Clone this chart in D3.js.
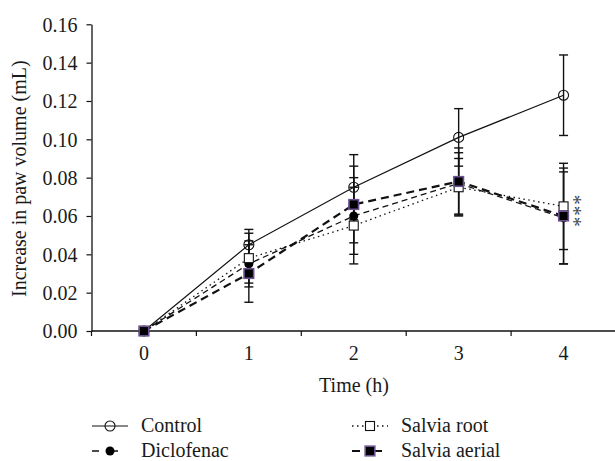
<!DOCTYPE html>
<html>
<head>
<meta charset="utf-8">
<script src="https://cdn.jsdelivr.net/npm/d3@7"></script>
<style>
  html, body { margin: 0; padding: 0; background: #fff; }
  svg, svg text { font-family: "Liberation Serif", "Times New Roman", serif !important; }
  svg text { fill: #1a1a1a; }
</style>
</head>
<body>
<svg id="chart" width="615" height="461" font-family="Liberation Serif, serif"></svg>
<script>
const times = ["0", "1", "2", "3", "4"];
const yTicks = [0, 0.02, 0.04, 0.06, 0.08, 0.10, 0.12, 0.14, 0.16];

const controlMean = [0, 0.045, 0.075, 0.101, 0.123];
const controlErr  = [0, 0.008, 0.017, 0.015, 0.021];
const diclofenacMean = [0, 0.035, 0.060, 0.077, 0.059];
const diclofenacErr  = [0, 0.012, 0.020, 0.016, 0.024];
const rootMean = [0, 0.038, 0.055, 0.075, 0.065];
const rootErr  = [0, 0.013, 0.020, 0.015, 0.0225];
const aerialMean = [0, 0.030, 0.066, 0.078, 0.060];
const aerialErr  = [0, 0.015, 0.020, 0.0175, 0.025];

const seriesNames = ["Control", "Diclofenac", "Salvia root", "Salvia aerial"];
// significance marks at 4 h (three stacked asterisks)
const starLabel = "***";
const starTop = 0.0685;

const svg = d3.select("#chart");
const mLeft = 91.5, mRight = 616, mTop = 24.3, mBottom = 331;
const FONT = "'Liberation Serif', 'Times New Roman', serif";

const x = d3.scaleBand().domain(times).range([mLeft, mRight]).padding(0);
const y = d3.scaleLinear().domain([0, 0.16]).range([mBottom, mTop]);
const cx = t => x(t) + x.bandwidth() / 2;

// Y axis
const yAxis = d3.axisLeft(y).tickValues(yTicks).tickFormat(d3.format(".2f")).tickSize(5).tickSizeOuter(0);
const gy = svg.append("g").attr("transform", `translate(${mLeft},0)`).call(yAxis)
  .attr("font-family", FONT).attr("font-size", 20);
gy.select(".domain").attr("stroke", "#111").attr("stroke-width", 1.3);
gy.selectAll(".tick line").attr("stroke", "#111").attr("stroke-width", 1.2);
gy.selectAll(".tick text").attr("x", -14).attr("dy", "0.34em")
  .style("font-family", FONT).style("font-size", "20px").attr("fill", "#1a1a1a");

// X axis: ticks at band boundaries
const gx = svg.append("g").attr("transform", `translate(0,${mBottom})`);
gx.append("line").attr("x1", mLeft).attr("x2", mRight).attr("y1", 0).attr("y2", 0)
  .attr("stroke", "#111").attr("stroke-width", 1.3);
gx.selectAll("line.tk").data(times).enter().append("line").attr("class", "tk")
  .attr("x1", d => x(d)).attr("x2", d => x(d)).attr("y1", 0).attr("y2", 5)
  .attr("stroke", "#111").attr("stroke-width", 1.2);
gx.selectAll("text").data(times).enter().append("text")
  .attr("x", d => cx(d)).attr("y", 29).attr("text-anchor", "middle")
  .style("font-family", FONT).style("font-size", "20px").text(d => d);

// Axis titles
svg.append("text").attr("x", 354).attr("y", 392).attr("text-anchor", "middle")
  .style("font-family", FONT).style("font-size", "20px").text("Time (h)");
svg.append("text").attr("transform", `translate(26,${(mTop + mBottom) / 2 + 1}) rotate(-90)`)
  .attr("text-anchor", "middle").style("font-family", FONT).style("font-size", "20px")
  .text("Increase in paw volume (mL)");

const series = [
  { name: seriesNames[0], mean: controlMean, err: controlErr, dash: null, width: 1.2, marker: "circleOpen" },
  { name: seriesNames[1], mean: diclofenacMean, err: diclofenacErr, dash: "6,4", width: 1.3, marker: "circleFilled" },
  { name: seriesNames[2], mean: rootMean, err: rootErr, dash: "1.5,3.5", width: 1.3, marker: "squareOpen" },
  { name: seriesNames[3], mean: aerialMean, err: aerialErr, dash: "8,5", width: 2.2, marker: "squareFilled" }
];

// Error bars
series.forEach(s => {
  const g = svg.append("g");
  times.forEach((t, i) => {
    if (s.err[i] <= 0) return;
    const xc = cx(t), y1 = y(s.mean[i] + s.err[i]), y2 = y(s.mean[i] - s.err[i]);
    g.append("line").attr("x1", xc).attr("x2", xc).attr("y1", y1).attr("y2", y2)
      .attr("stroke", "#111").attr("stroke-width", 1.4);
    [y1, y2].forEach(yy => g.append("line").attr("x1", xc - 4.5).attr("x2", xc + 4.5)
      .attr("y1", yy).attr("y2", yy).attr("stroke", "#111").attr("stroke-width", 1.4));
  });
});

// Lines
const line = d3.line().x((d, i) => cx(times[i])).y(d => y(d));
series.forEach(s => {
  svg.append("path").datum(s.mean).attr("d", line).attr("fill", "none")
    .attr("stroke", "#111").attr("stroke-width", s.width)
    .attr("stroke-dasharray", s.dash);
});

function drawMarker(g, type, px, py) {
  if (type === "circleOpen") {
    g.append("circle").attr("cx", px).attr("cy", py).attr("r", 5).attr("fill", "none")
      .attr("stroke", "#111").attr("stroke-width", 1.1);
  } else if (type === "circleFilled") {
    g.append("circle").attr("cx", px).attr("cy", py).attr("r", 4.5).attr("fill", "#000");
  } else if (type === "squareOpen") {
    g.append("rect").attr("x", px - 4.5).attr("y", py - 4.5).attr("width", 9).attr("height", 9)
      .attr("fill", "#fff").attr("stroke", "#111").attr("stroke-width", 1.1);
  } else {
    g.append("rect").attr("x", px - 4.8).attr("y", py - 4.8).attr("width", 9.6).attr("height", 9.6)
      .attr("fill", "#000").attr("stroke", "#6b5190").attr("stroke-width", 1.6);
  }
}

// Markers
series.forEach(s => {
  const g = svg.append("g");
  s.mean.forEach((v, i) => drawMarker(g, s.marker, cx(times[i]), y(v)));
});

// significance asterisks: a single text run rotated so the marks stack vertically
const starX = cx("4") + 13.5, starY = y(starTop);
svg.append("text")
  .attr("transform", `translate(${starX - 9.8},${starY - 5}) rotate(90)`)
  .attr("text-anchor", "start")
  .style("font-family", FONT).style("font-size", "20px").style("letter-spacing", "1px")
  .style("fill", "#444").text(starLabel);

// Legend
const legendPos = [
  { x: 92, y: 426 }, { x: 92, y: 451 }, { x: 352, y: 426 }, { x: 352, y: 451 }
];
const legendDash = [null, "7,12", "1.5,3.5", "8,14"];
series.forEach((s, i) => {
  const p = legendPos[i];
  const g = svg.append("g");
  g.append("line").attr("x1", p.x).attr("x2", p.x + 36).attr("y1", p.y).attr("y2", p.y)
    .attr("stroke", "#111").attr("stroke-width", s.width)
    .attr("stroke-dasharray", legendDash[i]);
  drawMarker(g, s.marker, p.x + 18, p.y);
  g.append("text").attr("x", p.x + 49).attr("y", p.y + 5.5)
    .style("font-family", FONT).style("font-size", "20px").text(s.name);
});
</script>
</body>
</html>
